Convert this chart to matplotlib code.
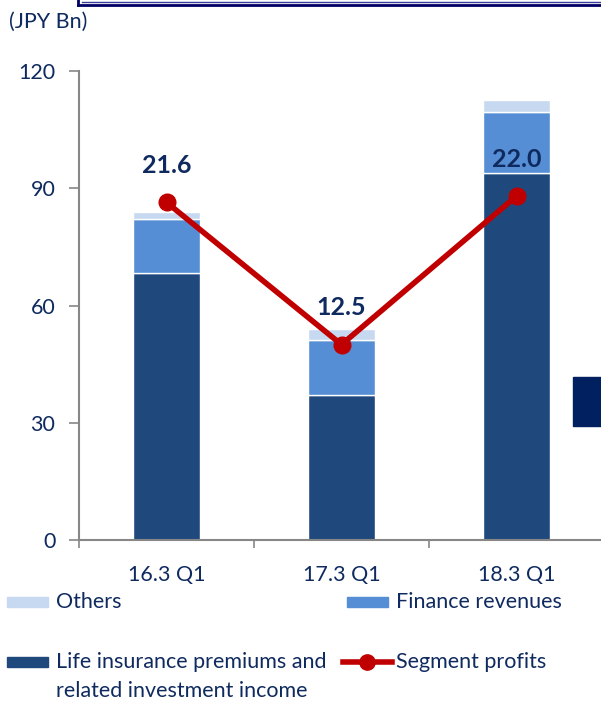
import matplotlib.pyplot as plt
from matplotlib.lines import Line2D
from matplotlib.patches import Rectangle

plt.rcParams['font.family'] = ['Lato', 'DejaVu Sans']

# data (JPY Bn)
periods = ["16.3 Q1", "17.3 Q1", "18.3 Q1"]
life_ins = [68.4, 37.1, 93.8]
finance = [13.7, 14.1, 15.6]
others = [1.8, 2.7, 3.2]
seg_profits = [21.6, 12.5, 22.0]

c_life = "#1F497D"
c_fin = "#558ED5"
c_oth = "#C6D9F1"
c_red = "#C00000"
c_txt = "#0F2A5F"
c_axis = "#878787"

W, H = 601, 701
fig = plt.figure(figsize=(W / 100, H / 100), dpi=100)
ax = fig.add_axes([79 / W, 161 / H, 525 / W, 469 / H])


def fx(px):
    return px / W


def fy(py):
    # pixel from top -> figure fraction
    return 1 - py / H


x = range(len(periods))
w = 0.385
ax.bar(x, life_ins, w, color=c_life, edgecolor="white", linewidth=1)
bottom2 = [a + b for a, b in zip(life_ins, finance)]
ax.bar(x, finance, w, bottom=life_ins, color=c_fin, edgecolor="white", linewidth=1)
ax.bar(x, others, w, bottom=bottom2, color=c_oth, edgecolor="white", linewidth=1)

ax.set_xlim(-0.5, 2.5)
ax.set_ylim(0, 120)
ax.set_yticks([0, 30, 60, 90, 120])
ax.set_xticks([-0.5, 0.5, 1.5, 2.5])
ax.set_xticklabels([])
ax.set_xticks(list(x), minor=True)
ax.set_xticklabels(periods, minor=True)
ax.tick_params(axis="x", which="major", direction="out", length=6, color=c_axis, width=1.2)
ax.tick_params(axis="x", which="minor", length=0, pad=18, labelsize=15.5, labelcolor=c_txt)
ax.tick_params(axis="y", direction="out", length=7, color=c_axis, width=1.2, pad=10,
               labelsize=15.5, labelcolor=c_txt)
for s in ["top", "right"]:
    ax.spines[s].set_visible(False)
for s in ["left", "bottom"]:
    ax.spines[s].set_color(c_axis)
    ax.spines[s].set_linewidth(1.5)
ax.spines["bottom"].set_clip_on(False)

# segment profits on hidden secondary axis
ax2 = ax.twinx()
ax2.set_ylim(0, 30)
ax2.axis("off")
ax2.plot(x, seg_profits, color=c_red, linewidth=4, marker="o", markersize=12)
for xi, v in zip(x, seg_profits):
    ax2.annotate(f"{v:.1f}", (xi, v), xytext=(0, 37), textcoords="offset pixels",
                 ha="center", va="center", fontsize=18, fontweight="bold", color=c_txt)

fig.text(fx(9), fy(22), "(JPY Bn)", fontsize=15.5, color=c_txt, va="center")

# legend, laid out by hand
def legend_patch(x0, yc, color, label):
    fig.add_artist(Rectangle((fx(x0), fy(yc + 5)), 41 / W, 10 / H,
                             transform=fig.transFigure, color=color))
    fig.text(fx(x0 + 49), fy(yc), label, fontsize=15.5, color=c_txt,
             va="center", linespacing=1.55)


legend_patch(7, 602, c_oth, "Others")
legend_patch(347, 602, c_fin, "Finance revenues")
fig.add_artist(Rectangle((fx(7), fy(667)), 41 / W, 10 / H,
                         transform=fig.transFigure, color=c_life))
fig.text(fx(56), fy(652), "Life insurance premiums and\nrelated investment income",
         fontsize=15.5, color=c_txt, va="top", linespacing=1.55)
fig.add_artist(Line2D([fx(343), fx(392)], [fy(662)] * 2, transform=fig.transFigure,
                      color=c_red, linewidth=4))
fig.add_artist(Line2D([fx(367)], [fy(662)], transform=fig.transFigure,
                      color=c_red, marker="o", markersize=11))
fig.text(fx(396), fy(662), "Segment profits", fontsize=15.5, color=c_txt, va="center")

# decorations cut off at the edges
fig.add_artist(Line2D([fx(78), 1], [fy(5)] * 2, transform=fig.transFigure,
                      color="#000066", linewidth=2))
fig.add_artist(Line2D([fx(78)] * 2, [fy(5), 1], transform=fig.transFigure,
                      color="#000066", linewidth=2))
fig.add_artist(Line2D([fx(82), 1], [fy(1.5)] * 2, transform=fig.transFigure,
                      color="#3A3A9A", linewidth=1))
fig.add_artist(Rectangle((fx(573), fy(426)), 30 / W, 49 / H,
                         transform=fig.transFigure, color="#002060"))

fig.savefig("out.png", dpi=100)
